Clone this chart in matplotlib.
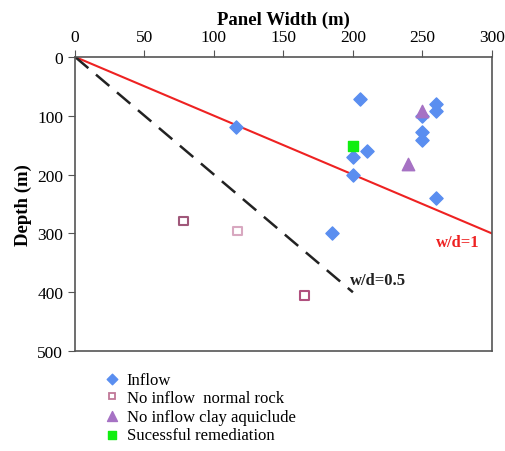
import matplotlib.pyplot as plt
import numpy as np

plt.rcParams["font.family"] = ["Liberation Serif", "DejaVu Serif"]

# inflow cases (panel width, depth)
inflow_w = [116, 205, 200, 210, 200, 250, 250, 250, 260, 260, 260, 185]
inflow_d = [120, 72, 170, 160, 201, 100, 128, 141, 80, 92, 240, 299]

# no inflow, normal rock
rock_w = [78, 117, 165]
rock_d = [279, 296, 405]
rock_edge = ["#a0587a", "#d8a8c0", "#b0507e"]

# no inflow, clay aquiclude
clay_w = [250, 240]
clay_d = [92, 182]

# successful remediation
fix_w = [200]
fix_d = [151]

line_w = np.array([0, 300])
half_w = np.array([0, 200])

fig = plt.figure(figsize=(5.05, 4.52), dpi=100)
ax = fig.add_axes([0.1485, 0.221, 0.8255, 0.651])

ax.plot(line_w, line_w / 1.0, color="#ee2222", lw=1.5, zorder=2)
ax.plot(half_w, half_w / 0.5, color="#222222", lw=1.8, ls=(0, (7, 4)), zorder=2)

ax.scatter(inflow_w, inflow_d, marker="D", s=45, color="#5a8ef0", zorder=3, label="Inflow")
ax.scatter(rock_w, rock_d, marker="s", s=40, facecolor="white", edgecolor=rock_edge,
           linewidths=1.5, zorder=3, label="No inflow  normal rock")
ax.scatter(clay_w, clay_d, marker="^", s=80, color="#a672c4", zorder=3, label="No inflow clay aquiclude")
ax.scatter(fix_w, fix_d, marker="s", s=55, color="#11ee11", zorder=3, label="Sucessful remediation")

ax.text(260, 315, "w/d=1", color="#ee2222", fontsize=12, fontweight="bold", va="center")
ax.text(198, 380, "w/d=0.5", color="#222222", fontsize=12, fontweight="bold", va="center")

ax.set_xlim(0, 300)
ax.set_ylim(500, 0)
ax.set_xticks(np.arange(0, 301, 50))
ax.set_yticks(np.arange(0, 501, 100))
ax.xaxis.tick_top()
ax.xaxis.set_label_position("top")
ax.tick_params(labelsize=12.5, color="#555555", direction="out", length=5)
ax.set_xlabel("Panel Width (m)", fontsize=13.5, fontweight="bold")
ax.set_ylabel("Depth (m)", fontsize=13.5, fontweight="bold")
for spine in ax.spines.values():
    spine.set_color("#555555")
    spine.set_linewidth(1.2)

handles, labels = ax.get_legend_handles_labels()
rock_handle = plt.Line2D([], [], marker="s", ls="", markersize=6, markerfacecolor="white",
                         markeredgecolor="#c07898", markeredgewidth=1.3)
handles[1] = rock_handle
fig.legend(handles, labels, loc="upper left", bbox_to_anchor=(0.195, 0.19), frameon=False,
           fontsize=12, handlelength=0.8, handletextpad=0.5, labelspacing=0.15,
           borderaxespad=0, markerscale=0.8)

fig.savefig("out.png", dpi=100)
